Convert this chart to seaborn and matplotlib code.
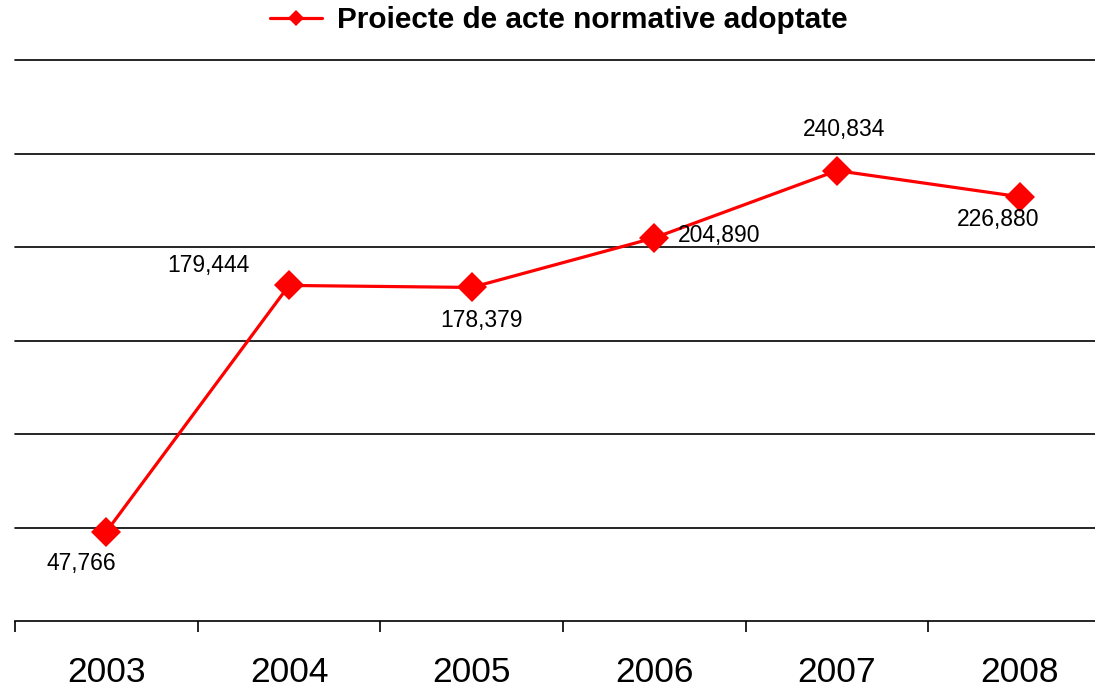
import pandas as pd
import numpy as np
import matplotlib
matplotlib.use("Agg")
import matplotlib.pyplot as plt
import seaborn as sns

# date
ani = ['2003', '2004', '2005', '2006', '2007', '2008']
valori = [47.766, 179.444, 178.379, 204.890, 240.834, 226.880]
etichete = ['47,766', '179,444', '178,379', '204,890', '240,834', '226,880']
serie = 'Proiecte de acte normative adoptate'

df = pd.DataFrame({'an': ani, 'valoare': valori})

sns.set_style('white')
plt.rcParams['font.family'] = ['Liberation Sans', 'DejaVu Sans']
plt.rcParams['text.color'] = 'black'
plt.rcParams['xtick.color'] = 'black'
plt.rcParams['xtick.labelcolor'] = 'black'

fig = plt.figure(figsize=(10.95, 6.87), dpi=100)
ax = fig.add_axes([15 / 1095, 66 / 687, 1096 / 1095, 561 / 687])

sns.lineplot(data=df, x='an', y='valoare', ax=ax, color='#ff0000', linewidth=2.3,
             marker='D', markersize=15.5, markeredgewidth=0, label=serie, legend=False)

ax.set_xlim(-0.5, 5.5)
ax.set_ylim(0, 300)
ax.set_yticks([50, 100, 150, 200, 250, 300])
ax.yaxis.grid(True, color='black', linewidth=1.2)
for gl in ax.get_ygridlines():
    gl.set_clip_on(False)
ax.set_axisbelow(True)
ax.tick_params(axis='y', left=False, labelleft=False)
for s in ['left', 'right', 'top']:
    ax.spines[s].set_visible(False)
ax.spines['bottom'].set_color('black')
ax.spines['bottom'].set_linewidth(1.2)

ax.set_xticks(range(len(ani)))
ax.set_xticklabels(ani, fontsize=25.5)
ax.set_xticks(np.arange(-0.5, len(ani) - 1, 1.0), minor=True)
ax.tick_params(axis='x', which='major', length=0, pad=25)
ax.tick_params(axis='x', which='minor', length=8, width=1.2, color='black', bottom=True)
ax.set_xlabel('')
ax.set_ylabel('')

# pozitii etichete (offset in pixeli fata de punct)
offs = [(-25, -32), (-81, 20), (10, -33), (65, 2), (7, 41), (-22, -23)]
for i, (v, t) in enumerate(zip(valori, etichete)):
    ax.annotate(t, (i, v), xytext=offs[i], textcoords='offset pixels',
                ha='center', va='center', fontsize=16.5, color='black')

fig.legend(loc='center', bbox_to_anchor=(559 / 1095, 1 - 20 / 687), frameon=False,
           prop={'weight': 'bold', 'size': 21.4}, handlelength=1.75, markerscale=0.55,
           handletextpad=0.5)

fig.savefig('out.png', dpi=100)
